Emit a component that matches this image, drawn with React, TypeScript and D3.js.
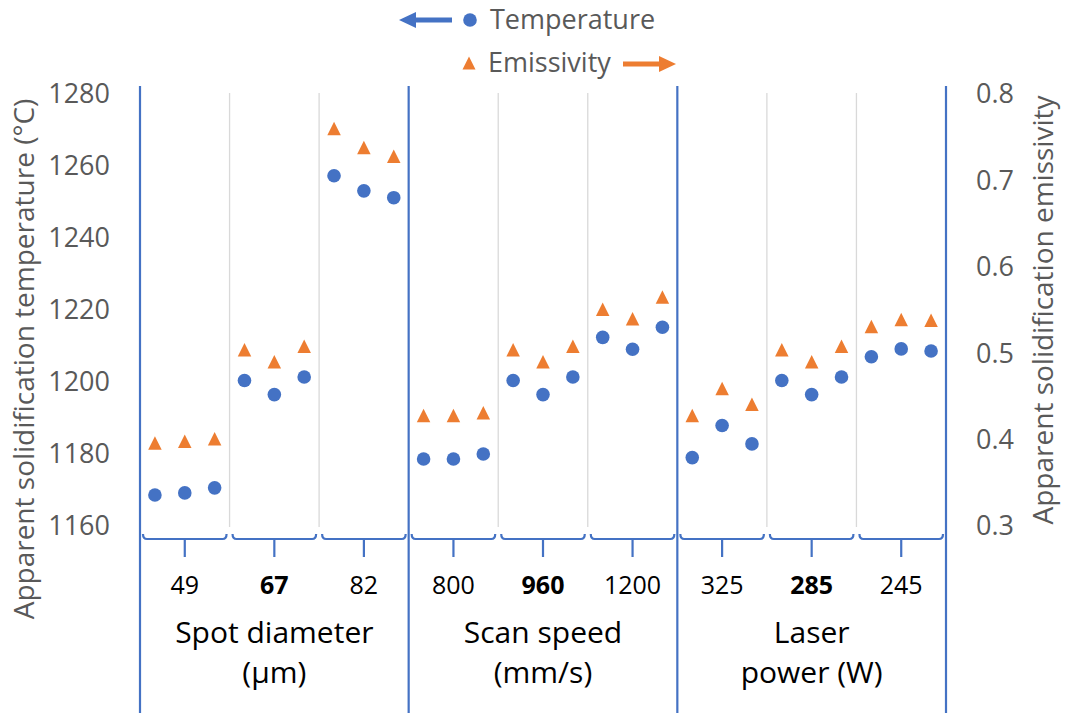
import React from 'react';
import * as d3 from 'd3';

// parameter groups and their levels (bold = reference setting)
const groupNames = [['Spot diameter', '(µm)'], ['Scan speed', '(mm/s)'], ['Laser', 'power (W)']];
const levelLabels = [['49', '67', '82'], ['800', '960', '1200'], ['325', '285', '245']];
const boldLevels = ['67', '960', '285'];

// three repeats per level, 27 points in total
const temperature = [
  1168.6, 1169.2, 1170.6, 1200.4, 1196.5, 1201.4, 1257.3, 1253.1, 1251.2,
  1178.6, 1178.6, 1180.0, 1200.4, 1196.5, 1201.4, 1212.4, 1209.1, 1215.2,
  1179.0, 1187.9, 1182.8, 1200.4, 1196.5, 1201.4, 1207.0, 1209.2, 1208.6,
];
const emissivity = [
  0.396, 0.398, 0.401, 0.504, 0.490, 0.508, 0.760, 0.738, 0.728,
  0.428, 0.428, 0.431, 0.504, 0.490, 0.508, 0.551, 0.540, 0.565,
  0.428, 0.459, 0.441, 0.504, 0.490, 0.508, 0.531, 0.539, 0.538,
];
const tempTicks = [1160, 1180, 1200, 1220, 1240, 1260, 1280];
const emisTicks = [0.3, 0.4, 0.5, 0.6, 0.7, 0.8];

const W = 1065;
const H = 713;
const BLUE = '#4472C4';
const ORANGE = '#ED7D31';
const GREY = '#595959';
const FONT = '"Open Sans", sans-serif';

const plot = { left: 140, right: 946, top: 94, bottom: 526 };

const App = () => {
  const perGroup = 9;
  const x = d3.scaleBand<number>()
    .domain(d3.range(temperature.length))
    .range([plot.left, plot.right]);
  const yT = d3.scaleLinear().domain([1160, 1280]).range([plot.bottom, plot.top]);
  const yE = d3.scaleLinear().domain([0.3, 0.8]).range([plot.bottom, plot.top]);
  const step = x.bandwidth();

  // triangle centred on its bounding box
  const tri = (s: number) => `M0,${-s / 2}L${s / 2},${s / 2}L${-s / 2},${s / 2}Z`;

  // category boundaries
  const cats: { i: number; label: string; x0: number; x1: number }[] = [];
  levelLabels.forEach((lv, g) => lv.forEach((label, j) => {
    const i0 = g * perGroup + j * 3;
    cats.push({ i: i0, label, x0: x(i0)!, x1: x(i0)! + step * 3 });
  }));

  const bracketY = 539;

  return (
    <svg width={W} height={H} style={{ position: 'absolute', left: 0, top: 0, background: '#fff' }}
      fontFamily={FONT}>
      {/* grey grid lines between levels */}
      {cats.filter((c, k) => k % 3 !== 0).map((c) => (
        <line key={'g' + c.i} x1={c.x0} x2={c.x0} y1={plot.top - 1} y2={plot.bottom + 1}
          stroke="#D9D9D9" strokeWidth={1.3} />
      ))}

      {/* blue group separators */}
      {d3.range(groupNames.length + 1).map((g) => {
        const gx = g < groupNames.length ? x(g * perGroup)! : plot.right;
        return <line key={'b' + g} x1={gx} x2={gx} y1={86} y2={H} stroke={BLUE} strokeWidth={2.2} />;
      })}

      {/* brackets under each level */}
      {cats.map((c) => {
        const a = c.x0 + 3;
        const b = c.x1 - 3;
        const m = (c.x0 + c.x1) / 2;
        return (
          <g key={'k' + c.i} fill="none" stroke={BLUE} strokeWidth={2.2}>
            <path d={`M${a},${bracketY - 5}Q${a},${bracketY} ${a + 4},${bracketY}L${b - 4},${bracketY}Q${b},${bracketY} ${b},${bracketY - 5}`} />
            <line x1={m} x2={m} y1={bracketY} y2={bracketY + 18} />
          </g>
        );
      })}

      {/* level labels */}
      {cats.map((c) => (
        <text key={'l' + c.i} x={(c.x0 + c.x1) / 2} y={594} textAnchor="middle" fontSize={25}
          fill="#000" fontWeight={boldLevels.includes(c.label) ? 'bold' : 'normal'}>{c.label}</text>
      ))}

      {/* group labels */}
      {groupNames.map((lines, g) => {
        const cx = x(g * perGroup)! + step * perGroup / 2;
        return (
          <text key={'n' + g} x={cx} textAnchor="middle" fontSize={30} fill="#000">
            {lines.map((t, k) => <tspan key={k} x={cx} y={643 + k * 40}>{t}</tspan>)}
          </text>
        );
      })}

      {/* left axis */}
      {tempTicks.map((t) => (
        <text key={'t' + t} x={110} y={yT(t)} dy="0.35em" textAnchor="end" fontSize={27} fill={GREY}>{t}</text>
      ))}
      <text transform={`translate(34,359) rotate(-90)`} textAnchor="middle" fontSize={28} fill={GREY}>
        Apparent solidification temperature (°C)
      </text>

      {/* right axis */}
      {emisTicks.map((t) => (
        <text key={'e' + t} x={976} y={yE(t)} dy="0.35em" textAnchor="start" fontSize={27} fill={GREY}>{t.toFixed(1)}</text>
      ))}
      <text transform={`translate(1053,310) rotate(-90)`} textAnchor="middle" fontSize={28} fill={GREY}>
        Apparent solidification emissivity
      </text>

      {/* series */}
      {emissivity.map((e, i) => (
        <path key={'tr' + i} d={tri(13.5)} transform={`translate(${x(i)! + step / 2},${yE(e)})`} fill={ORANGE} />
      ))}
      {temperature.map((t, i) => (
        <circle key={'c' + i} cx={x(i)! + step / 2} cy={yT(t)} r={6.8} fill={BLUE} />
      ))}

      {/* legend */}
      <g>
        <line x1={452} x2={414} y1={20} y2={20} stroke={BLUE} strokeWidth={5} />
        <path d="M399,20L416,12L416,28Z" fill={BLUE} />
        <circle cx={470} cy={20} r={6.8} fill={BLUE} />
        <text x={490} y={20} dy="0.35em" fontSize={27} fill={GREY}>Temperature</text>
        <path d={tri(13)} transform="translate(469,63)" fill={ORANGE} />
        <text x={488} y={63} dy="0.35em" fontSize={27} fill={GREY}>Emissivity</text>
        <line x1={623} x2={660} y1={64} y2={64} stroke={ORANGE} strokeWidth={5} />
        <path d="M676,64L659,56L659,72Z" fill={ORANGE} />
      </g>
    </svg>
  );
};

export default App;
